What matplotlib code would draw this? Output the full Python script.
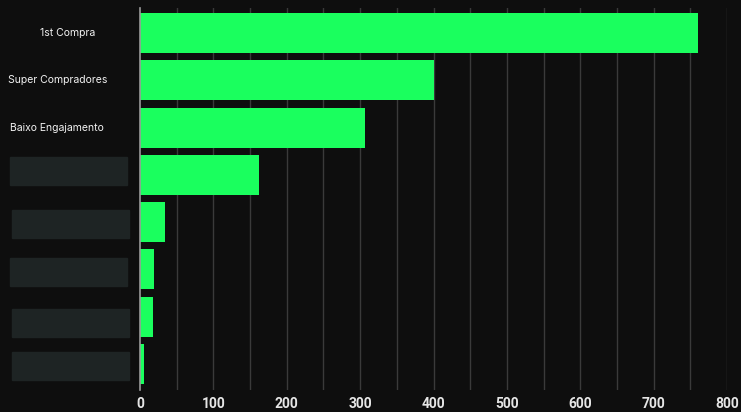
import matplotlib.pyplot as plt
from matplotlib.patches import Rectangle

# categories, top to bottom (last five are hidden in the reference)
categories = ["1st Compra", "Super Compradores", "Baixo Engajamento", "", "", "", "", ""]
values = [761, 400, 306, 162, 34, 19, 18, 5]
xticks = [0, 100, 200, 300, 400, 500, 600, 700, 800]

BG = "#0e0e0e"
BAR = "#1aff5e"

W, H = 741, 412
fig = plt.figure(figsize=(W / 100, H / 100), dpi=100, facecolor=BG)
ax = fig.add_axes([140 / W, 1 - 390 / H, (727 - 140) / W, (390 - 8) / H])
ax.set_facecolor(BG)

pos = list(range(len(categories)))
ax.barh(pos, values, height=0.845, color=BAR, zorder=3)
ax.set_ylim(len(categories) - 0.45, -0.53)
ax.set_xlim(0, 800)

ax.set_xticks(xticks)
ax.set_xticklabels([str(t) for t in xticks], fontsize=10, fontweight="bold",
                   color="#e6e6e6", family="Roboto")
for x in range(50, 801, 50):
    ax.axvline(x, color="#3a3a3a", lw=1, zorder=1)
ax.tick_params(axis="x", length=0, pad=5)
ax.set_yticks([])

for s in ["top", "right", "bottom"]:
    ax.spines[s].set_visible(False)
ax.spines["left"].set_color("#9a9a9a")
ax.spines["left"].set_linewidth(1.2)
ax.spines["left"].set_zorder(4)

# category labels (centred in the left column)
label_x = [68, 58, 57]
for i, name in enumerate(categories[:3]):
    y = ax.transData.transform((0, i))[1]
    fig.text(label_x[i] / W, y / fig.bbox.height, name, ha="center", va="center",
             fontsize=7.5, color="#f2f2f2", family="Inter")

# grey boxes hiding the other labels
boxes = [(10, 157, 127, 185), (12, 210, 129, 238), (10, 258, 127, 286),
         (12, 309, 129, 337), (12, 352, 129, 380)]
for x0, y0, x1, y1 in boxes:
    fig.patches.append(Rectangle((x0 / W, 1 - y1 / H), (x1 - x0) / W, (y1 - y0) / H,
                                 transform=fig.transFigure, color="#1e2424"))

fig.savefig("out.png", dpi=100, facecolor=BG)
